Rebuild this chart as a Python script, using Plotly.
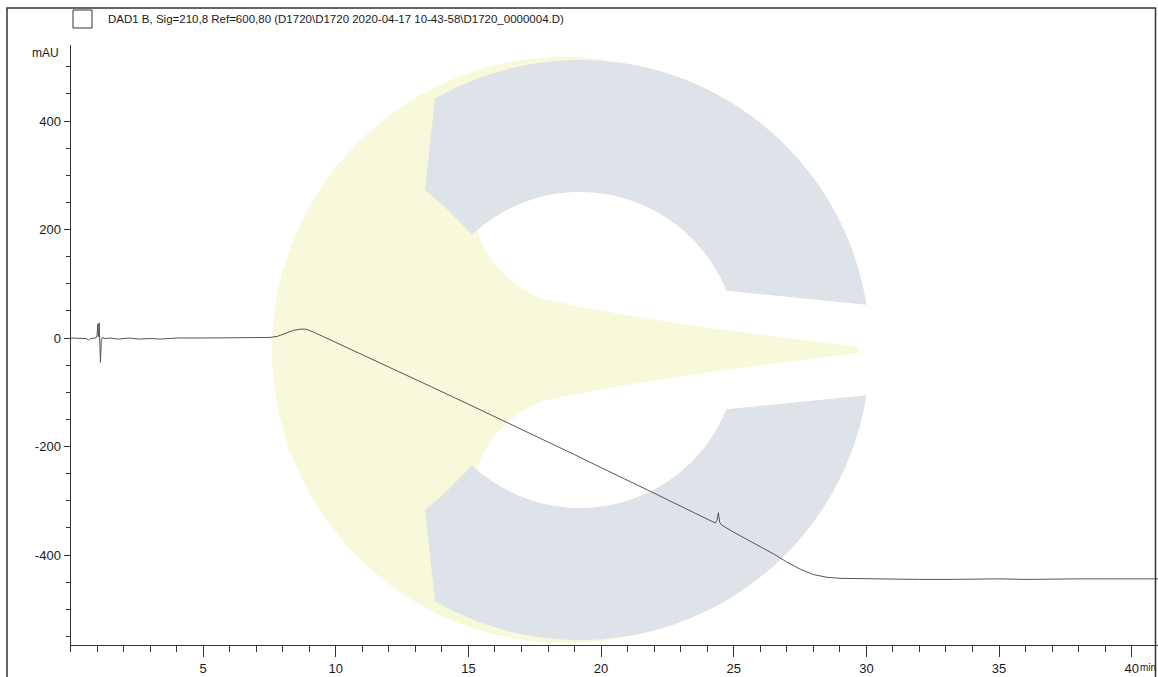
import numpy as np
import plotly.graph_objects as go

# ---------------- data ----------------
time_min = [0.0, 0.3, 0.6, 0.68, 0.76, 0.95, 1.0, 1.03, 1.05, 1.08, 1.1, 1.13, 1.16, 1.2, 1.3,
            1.5, 1.8, 2.2, 2.6, 3.0, 3.4, 4.0, 5.0, 6.0, 7.0, 7.5, 7.8, 8.1, 8.4, 8.7, 8.9,
            9.2, 9.6, 10, 11, 12, 13, 14, 15, 16, 17, 18, 19, 20, 21, 22, 23, 24, 24.3,
            24.37, 24.42, 24.47, 24.55, 25, 25.5, 26, 26.5, 27, 27.5, 28, 28.5, 29, 30, 31,
            32, 33, 34, 35, 36, 37, 38, 39, 40, 41]
signal_mau = [0, 0, -1, -4, -1, 0, 5, 26, 2, 28, -10, -45, -5, 1, -1,
              0, -2, 0, -2, -1, -2, 0, 0, 0, 0, 1, 3, 8, 14, 16.5, 16,
              10, 1, -8, -31, -54, -76, -99, -122, -145, -168, -192, -215, -239, -262, -286, -310, -334, -341,
              -336, -322, -340, -345, -358, -371, -384, -398, -413, -426, -436, -441, -443, -444, -444,
              -445, -445, -444, -444, -445, -444, -444, -444, -444, -444]

x_tick_vals = [5, 10, 15, 20, 25, 30, 35, 40]
x_tick_text = ["5", "10", "15", "20", "25", "30", "35", "40"]
y_tick_vals = [-400, -200, 0, 200, 400]
y_tick_text = ["-400", "-200", "0", "200", "400"]
title_text = "DAD1 B, Sig=210,8 Ref=600,80 (D1720\\D1720 2020-04-17 10-43-58\\D1720_0000004.D)"

# ---------------- layout geometry ----------------
W, H = 1158, 677
X0_PX, X_PER_MIN = 70.5, 26.53      # pixel of t=0 and pixels per minute
Y0_PX, Y_PER_MAU = 338.0, 0.5425    # pixel of 0 mAU and pixels per mAU
AX_TOP_PX, AX_BOT_PX = 45, 645

FONT = "Liberation Sans Narrow, Arial Narrow, Liberation Sans, Arial, sans-serif"
TXT = "#1a1a1a"


def px_to_data(px, py):
    return (px - X0_PX) / X_PER_MIN, (Y0_PX - py) / Y_PER_MAU


def arc(cx, cy, r, a0, a1, n=80):
    a = np.radians(np.linspace(a0, a1, n))
    return list(zip(cx + r * np.cos(a), cy - r * np.sin(a)))


def poly_path(points_px):
    pts = [px_to_data(x, y) for x, y in points_px]
    return "M " + " L ".join(f"{x:.4f},{y:.3f}" for x, y in pts) + " Z"


def smooth(points, n=40):
    """quadratic-bezier chain through a few guide points (watermark decoration only)"""
    out = []
    p = np.array(points, dtype=float)
    for i in range(0, len(p) - 2, 2):
        p0, p1, p2 = p[i], p[i + 1], p[i + 2]
        t = np.linspace(0, 1, n)[:, None]
        seg = (1 - t) ** 2 * p0 + 2 * (1 - t) * t * p1 + t ** 2 * p2
        out.extend(map(tuple, seg))
    return out


YELLOW = "rgb(248,248,218)"
GREY = "rgb(221,227,232)"
WHITE = "rgb(255,255,255)"
CX, CY, R_OUT, R_IN = 580, 350, 290, 158

upper_edge = smooth([(885, 350), (640, 322), (540, 298), (490, 275), (477, 230)])
lower_edge = smooth([(885, 350), (640, 378), (540, 402), (490, 425), (477, 470)])

watermark = [
    (arc(565, 350, 293, 0, 360, 160), YELLOW),
    (arc(CX, CY, R_IN, 130.7, 22) + [(900, 291), (900, 350)] + upper_edge, WHITE),
    (arc(CX, CY, R_IN, -130.7, -22) + [(900, 409), (900, 350)] + lower_edge, WHITE),
    (arc(CX, CY, R_OUT, 9, 120) + [(425, 190), (445, 207)] + arc(CX, CY, R_IN, 133, 22), GREY),
    (arc(CX, CY, R_OUT, -9, -120) + [(425, 510), (445, 493)] + arc(CX, CY, R_IN, -133, -22), GREY),
]

shapes = []
for pts, col in watermark:
    shapes.append(dict(type="path", xref="x", yref="y", path=poly_path(pts),
                       fillcolor=col, line=dict(width=0), layer="below"))

# outer frame and legend box
shapes.append(dict(type="rect", xref="paper", yref="paper",
                   x0=7 / W, x1=1155.5 / W, y0=-0.2, y1=(H - 8) / H,
                   line=dict(color="#333333", width=1.5), fillcolor="rgba(0,0,0,0)"))
shapes.append(dict(type="rect", xref="paper", yref="paper",
                   x0=73 / W, x1=92 / W, y0=(H - 28) / H, y1=(H - 10) / H,
                   line=dict(color="#333333", width=1), fillcolor="rgba(0,0,0,0)"))

fig = go.Figure()
fig.add_trace(go.Scatter(x=time_min, y=signal_mau, mode="lines",
                         line=dict(color="#555555", width=1), hoverinfo="skip",
                         showlegend=False))

x_range = [0, (W - X0_PX) / X_PER_MIN]
y_range = [(Y0_PX - AX_BOT_PX) / Y_PER_MAU, (Y0_PX - AX_TOP_PX) / Y_PER_MAU]

fig.update_layout(
    width=W, height=H, autosize=False,
    margin=dict(l=0, r=0, t=0, b=0, pad=0),
    paper_bgcolor="white", plot_bgcolor="white",
    font=dict(family=FONT, size=13, color=TXT),
    shapes=shapes,
    xaxis=dict(domain=[X0_PX / W, 1], range=x_range, showgrid=False, zeroline=False,
               showline=True, linecolor="#333333", linewidth=1,
               ticks="outside", tickvals=x_tick_vals, ticktext=x_tick_text, ticklen=11,
               tickcolor="#333333", tickfont=dict(family=FONT, size=13, color=TXT),
               minor=dict(dtick=1, ticks="outside", ticklen=6, tickcolor="#333333"),
               fixedrange=True),
    yaxis=dict(domain=[(H - AX_BOT_PX) / H, (H - AX_TOP_PX) / H], range=y_range,
               showgrid=False, zeroline=False, showline=True, linecolor="#333333", linewidth=1,
               ticks="outside", tickvals=y_tick_vals, ticktext=y_tick_text, ticklen=6,
               tickcolor="#333333", tickfont=dict(family=FONT, size=13, color=TXT),
               minor=dict(dtick=50, tick0=0, ticks="outside", ticklen=4, tickcolor="#333333"),
               fixedrange=True),
    annotations=[
        dict(text=title_text, xref="paper", yref="paper", x=106 / W, y=(H - 19) / H,
             xanchor="left", yanchor="middle", showarrow=False,
             font=dict(family=FONT, size=11.5, color=TXT)),
        dict(text="mAU", xref="paper", yref="paper", x=61 / W, y=(H - 53) / H,
             xanchor="right", yanchor="middle", showarrow=False,
             font=dict(family=FONT, size=12, color=TXT)),
        dict(text="min", xref="paper", yref="paper", x=1137.5 / W, y=(H - 667) / H,
             xanchor="left", yanchor="middle", showarrow=False,
             font=dict(family=FONT, size=10, color=TXT)),
    ],
)

fig.write_html("out.html", config={"displayModeBar": False},
               post_script="document.body.style.margin='0';document.body.style.overflow='hidden';")
